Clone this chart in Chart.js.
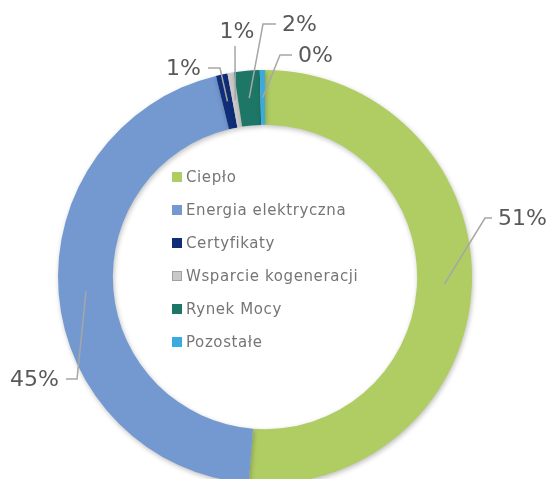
<!DOCTYPE html>
<html>
<head>
<meta charset="utf-8">
<script src="https://cdn.jsdelivr.net/npm/chart.js@4"></script>
<style>
  html, body { margin: 0; padding: 0; background: #fff; overflow: hidden; }
  #wrap { width: 548px; height: 490px; }
</style>
</head>
<body>
<div id="wrap"><canvas id="revenueChart"></canvas></div>
<script>
const categories = ["Ciepło", "Energia elektryczna", "Certyfikaty", "Wsparcie kogeneracji", "Rynek Mocy", "Pozostałe"];
const shares = [51.2, 44.9, 0.9, 0.5, 2.0, 0.4];
const shareLabels = ["51%", "45%", "1%", "1%", "2%", "0%"];
const colors = ["#b0cd64", "#7399d0", "#0f2d78", "#c9c9c9", "#1e7766", "#3aaae0"];

// where each label sits: elbow of the leader, end of the short horizontal, text side
const labelLayout = [
  { elbow: [485, 218], end: [492, 218], align: "left" },
  { elbow: [77, 379], end: [66, 379], align: "right" },
  { elbow: [220, 68], end: [208, 68], align: "right" },
  { elbow: [235, 46], end: [235, 46], align: "center" },
  { elbow: [263, 24], end: [276, 24], align: "left" },
  { elbow: [280, 55], end: [292, 55], align: "left" },
];

const textGray = "#595959";

const leaderLabels = {
  id: "leaderLabels",
  afterDatasetsDraw(chart) {
    const ctx = chart.ctx;
    const arcs = chart.getDatasetMeta(0).data;
    ctx.save();
    ctx.font = "22px 'DejaVu Sans', Verdana, sans-serif";
    ctx.textBaseline = "middle";
    arcs.forEach((arc, i) => {
      const p = arc.getProps(["x", "y", "startAngle", "endAngle", "innerRadius", "outerRadius"], true);
      const mid = (p.startAngle + p.endAngle) / 2;
      const r = (p.innerRadius + p.outerRadius) / 2;
      const ax = p.x + Math.cos(mid) * r;
      const ay = p.y + Math.sin(mid) * r;
      const lay = labelLayout[i];
      ctx.strokeStyle = "#a6a6a6";
      ctx.lineWidth = 1.5;
      ctx.beginPath();
      ctx.moveTo(ax, ay);
      ctx.lineTo(lay.elbow[0], lay.elbow[1]);
      ctx.lineTo(lay.end[0], lay.end[1]);
      ctx.stroke();
      ctx.fillStyle = textGray;
      if (lay.align === "left") {
        ctx.textAlign = "left";
        ctx.fillText(shareLabels[i], lay.end[0] + 6, lay.end[1] + 1);
      } else if (lay.align === "right") {
        ctx.textAlign = "right";
        ctx.fillText(shareLabels[i], lay.end[0] - 7, lay.end[1] + 1);
      } else {
        ctx.textAlign = "center";
        ctx.fillText(shareLabels[i], lay.end[0] + 2, lay.end[1] - 14);
      }
    });
    ctx.restore();
  },
};

const innerLegend = {
  id: "innerLegend",
  afterDraw(chart) {
    const ctx = chart.ctx;
    ctx.save();
    ctx.font = "15px 'DejaVu Sans', Verdana, sans-serif";
    ctx.letterSpacing = "0.6px";
    ctx.textBaseline = "middle";
    ctx.textAlign = "left";
    categories.forEach((name, i) => {
      const y = 177 + i * 33;
      ctx.fillStyle = colors[i];
      ctx.fillRect(172, y - 5, 10, 10);
      if (i === 3) {
        ctx.strokeStyle = "#a0a0a0";
        ctx.lineWidth = 1;
        ctx.strokeRect(172.5, y - 4.5, 9, 9);
      }
      ctx.fillStyle = "#757575";
      ctx.fillText(name, 186, y + 1);
    });
    ctx.restore();
  },
};

const ringShadow = {
  id: "ringShadow",
  beforeDatasetsDraw(chart) {
    chart.ctx.save();
    chart.ctx.shadowColor = "rgba(0,0,0,0.25)";
    chart.ctx.shadowBlur = 5;
    chart.ctx.shadowOffsetX = 1;
    chart.ctx.shadowOffsetY = 2;
  },
  afterDatasetsDraw(chart) {
    chart.ctx.restore();
  },
};

new Chart(document.getElementById("revenueChart"), {
  type: "doughnut",
  data: {
    labels: categories,
    datasets: [
      {
        data: shares,
        backgroundColor: colors,
        borderWidth: 0,
        hoverOffset: 0,
      },
    ],
  },
  options: {
    responsive: true,
    maintainAspectRatio: false,
    animation: false,
    cutout: "73.5%",
    rotation: 0,
    layout: { padding: { left: 58, right: 76, top: 70, bottom: 6 } },
    plugins: {
      legend: { display: false },
      tooltip: { enabled: false },
    },
  },
  plugins: [ringShadow, leaderLabels, innerLegend],
});
</script>
</body>
</html>
